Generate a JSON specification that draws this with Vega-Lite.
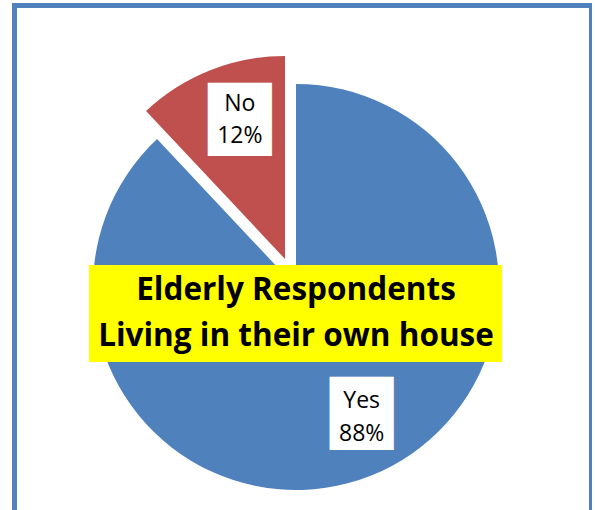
{
  "$schema": "https://vega.github.io/schema/vega-lite/v6.json",
  "width": 577,
  "height": 507,
  "autosize": {"type": "none"},
  "padding": {"left": 14.5, "top": 5.5, "right": 0, "bottom": 0},
  "background": "white",
  "config": {"view": {"stroke": null}},
  "title": {
    "text": ["Elderly Respondents", "Living in  their own house"],
    "font": "Open Sans",
    "fontSize": 31.5,
    "fontWeight": "bold",
    "color": "black",
    "anchor": "middle",
    "baseline": "alphabetic",
    "lineHeight": 46,
    "offset": 0,
    "dx": -7,
    "dy": 374.5,
    "zindex": 1
  },
  "data": {
    "values": [
      {"answer": "Yes", "value": 88, "label": ["Yes", "88%"]},
      {"answer": "No", "value": 12, "label": ["No", "12%"]}
    ]
  },
  "encoding": {
    "theta": {"field": "value", "type": "quantitative", "stack": true},
    "order": {"field": "answer", "sort": "descending"},
    "color": {
      "field": "answer",
      "type": "nominal",
      "scale": {"domain": ["Yes", "No"], "range": ["#4F81BD", "#C0504D"]},
      "legend": null
    }
  },
  "layer": [
    {
      "mark": {"type": "arc", "outerRadius": 203, "xOffset": -7, "yOffset": 28},
      "encoding": {
        "opacity": {"condition": {"test": "datum.answer === 'No'", "value": 0}, "value": 1}
      }
    },
    {
      "mark": {"type": "arc", "outerRadius": 203, "xOffset": -18, "yOffset": 0},
      "encoding": {
        "opacity": {"condition": {"test": "datum.answer === 'Yes'", "value": 0}, "value": 1}
      }
    },
    {
      "mark": {"type": "text", "radius": 143, "xOffset": -7, "yOffset": 28, "dx": 13, "dy": -6, "font": "DejaVu Sans", "fontSize": 23, "baseline": "middle", "align": "center", "fill": "white", "stroke": "white", "strokeWidth": 46, "strokeJoin": "miter", "text": "█"},
      "encoding": {
        "color": {"value": "white"},
        "opacity": {"condition": {"test": "datum.answer === 'No'", "value": 0}, "value": 1}
      }
    },
    {
      "mark": {"type": "text", "radius": 150, "xOffset": -18, "yOffset": 0, "dx": 10, "dy": 0, "font": "DejaVu Sans", "fontSize": 23, "baseline": "middle", "align": "center", "fill": "white", "stroke": "white", "strokeWidth": 46, "strokeJoin": "miter", "text": "█"},
      "encoding": {
        "color": {"value": "white"},
        "opacity": {"condition": {"test": "datum.answer === 'Yes'", "value": 0}, "value": 1}
      }
    },
    {
      "mark": {"type": "text", "radius": 143, "xOffset": -7, "yOffset": 28, "dx": 13, "dy": -19, "font": "Open Sans", "fontSize": 23, "lineHeight": 33, "baseline": "middle", "align": "center"},
      "encoding": {
        "text": {"field": "label"},
        "color": {"value": "black"},
        "opacity": {"condition": {"test": "datum.answer === 'No'", "value": 0}, "value": 1}
      }
    },
    {
      "mark": {"type": "text", "radius": 150, "xOffset": -18, "yOffset": 0, "dx": 10, "dy": -16, "font": "Open Sans", "fontSize": 23, "lineHeight": 32, "baseline": "middle", "align": "center"},
      "encoding": {
        "text": {"field": "label"},
        "color": {"value": "black"},
        "opacity": {"condition": {"test": "datum.answer === 'Yes'", "value": 0}, "value": 1}
      }
    },
    {
      "data": {"values": [{}]},
      "mark": {"type": "rect", "x": 74.5, "x2": 487.5, "y": 259.5, "y2": 356.5, "fill": "#FFFF00"},
      "encoding": {}
    },
    {
      "data": {"values": [{}]},
      "mark": {"type": "rect", "x": 0, "x2": {"expr": "width"}, "y": 0, "y2": {"expr": "height"}, "fill": "white", "fillOpacity": 0, "stroke": "#4F81BD", "strokeWidth": 5},
      "encoding": {}
    }
  ]
}
